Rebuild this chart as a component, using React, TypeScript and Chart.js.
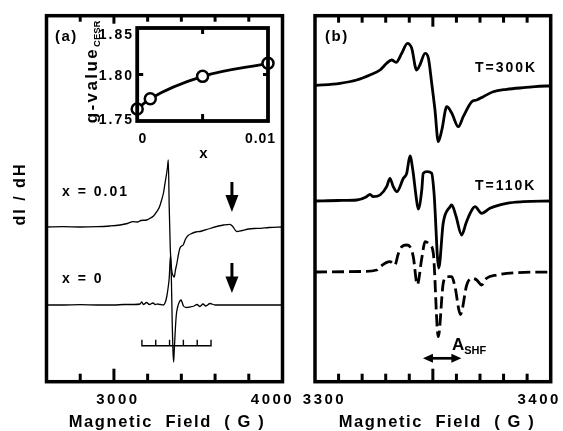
import React, { useEffect, useRef } from 'react';
import { Chart, registerables } from 'chart.js';

Chart.register(...registerables);

const W = 563;
const H = 431;
const FONT = '"Liberation Sans", Arial, Helvetica, sans-serif';

// ---------------- Panel (a): dI/dH vs magnetic field (G) ----------------
const A_FIELD_RANGE = [2600, 4000];
const A_Y_RANGE = [0, 366];
const A_MINOR_TICKS = [2800, 3200, 3400, 3600, 3800];
const A_MAJOR_TICKS = [3000];
const A_TICK_LABELS = [3000, 4000];
const A_OFFSET_X001 = 154.7;
const A_OFFSET_X0 = 76.7;

const TRACE_X001: [number, number][] = [
  [2600, 0], [2700, 0.3], [2800, 0], [2900, 0.3], [2977, 1], [3036, 2], [3080, 3.5],
  [3113, 5.3], [3140, 5], [3160, 6.5], [3194, 7], [3214, 8.7], [3235, 11], [3254, 15.3],
  [3270, 20], [3283, 27], [3295, 35], [3303, 43.7], [3313, 54], [3318, 60], [3322.5, 67],
  [3328, 20], [3334, -20], [3342, -42], [3352, -49], [3358, -50], [3364, -44], [3375, -35],
  [3382, -28], [3392, -21], [3402, -19], [3411, -18], [3425, -12], [3440, -8.5], [3455, -7],
  [3485, -5], [3511, -4.5], [3560, -2], [3590, -0.3], [3620, 1], [3650, 2], [3688, 2.7],
  [3705, 0.5], [3728, -4.5], [3760, -3.5], [3800, -2], [3830, -1.5], [3870, -1.3],
  [3920, -0.5], [4000, 0],
];

const TRACE_X0: [number, number][] = [
  [2600, 0], [2700, 0], [2800, 0.3], [2900, 0], [3000, 0], [3060, 0.5], [3120, 0.5],
  [3155, 1], [3165, 3], [3175, 0.5], [3194, 2.5], [3210, 0.5], [3232, 2], [3245, 0.5],
  [3260, 1], [3275, 0.5], [3293, 0], [3303, 2], [3313, 8], [3322, 18], [3328, 27],
  [3336, 50], [3341, 25], [3346, -20], [3350, -45], [3354, -57], [3358, -45], [3364, -25],
  [3370, -10], [3378, -2], [3388, 3], [3398, 5], [3406, 2], [3412, -1], [3430, -2.5],
  [3451, -2], [3475, -1], [3493, 0.5], [3510, -1.5], [3528, 1], [3545, -1], [3570, 1.5],
  [3600, 0], [3650, 0], [3750, 0], [3850, 0], [4000, 0],
];

const STICK_FIELDS = [3166, 3248, 3330, 3412, 3494, 3576];
const STICK_LEVEL = 36;
const STICK_HEIGHT = 6;
const A_ARROW_FIELD = 3700;
const A_ARROWS_Y: [number, number][] = [[199.7, 169.7], [118.7, 88.7]];

// ---------------- Inset: g-value_CESR vs x ----------------
const INSET_X = [0, 0.001, 0.005, 0.01];
const INSET_G = [1.763, 1.774, 1.798, 1.812];
const INSET_Y_LABELS = ['1.85', '1.80', '1.75'];
const INSET_X_LABELS = ['0', '0.01'];

// ---------------- Panel (b) ----------------
const B_FIELD_RANGE = [3300, 3400];
const B_MINOR_TICKS = [3310, 3320, 3330, 3340, 3360, 3370, 3380, 3390];
const B_MAJOR_TICKS = [3350];
const B_TICK_LABELS = [3300, 3400];
const B_OFFSET_300K = 295.7;
const B_OFFSET_110K = 180.7;
const B_OFFSET_SIM = 109.7;

const TRACE_300K: [number, number][] = [
  [3300, 0.5], [3310.6, 2.7], [3317.7, 6], [3323.3, 11], [3327.6, 16], [3330.4, 22.7],
  [3332.5, 26], [3334.4, 23.7], [3336.8, 32.7], [3339.2, 42.7], [3341, 38], [3343.1, 16],
  [3344.5, 21], [3346.7, 32.7], [3348.1, 28], [3349.5, 3], [3350.9, -24], [3352.3, -55.7],
  [3353.8, -44], [3355.9, -20.7], [3358, -27], [3360.8, -40.7], [3362.9, -30.7],
  [3366.5, -15.7], [3368.6, -14], [3371.4, -10.7], [3375.6, -5.7], [3381.3, -3.3],
  [3388.4, -1.7], [3398.3, 0], [3400, 0],
];

const TRACE_110K: [number, number][] = [
  [3300, 0], [3310, 0.5], [3317.7, 1], [3321.9, 4.3], [3323.3, 6.7], [3324.7, 4.3],
  [3327.6, 6], [3330.4, 14.3], [3331.8, 22.7], [3333.2, 14.3], [3334.7, 9.3], [3337.5, 22.7],
  [3338.9, 27.7], [3340.3, 45], [3341.5, 31], [3342.9, 4.3], [3343.8, -8], [3345.3, 11],
  [3345.9, 27.7], [3347.6, 29.3], [3349.5, 27.7], [3350.5, 8], [3352.5, -67], [3354.4, -22],
  [3357.3, -5.7], [3358, -4], [3359.8, -15], [3362.2, -34], [3364.1, -22], [3365.8, -12.3],
  [3367.9, -5.7], [3370.7, -12.3], [3374.2, -7.3], [3381.3, -2.3], [3388.4, -0.7], [3400, 0],
];

const TRACE_SIM: [number, number][] = [
  [3300, 0], [3320, 0.5], [3326.2, 2], [3327.6, 5.3], [3331.8, 10.3], [3333.9, 7],
  [3335.3, 18], [3336.8, 25.3], [3338.9, 27], [3340.3, 25.3], [3341.7, 15.3], [3343.4, -12.7],
  [3345.3, 13.7], [3346.7, 30.3], [3348.8, 27], [3350.2, 18.7], [3352.3, -64.7],
  [3354.4, -11.3], [3355.9, -4.7], [3358, -4.7], [3359.4, -15], [3361.7, -42.5],
  [3364.4, -12.7], [3366.5, -6.3], [3368.6, -8], [3370.7, -13], [3372.8, -6.3],
  [3377.1, -3], [3385.6, -0.7], [3400, 0],
];

const A_SHF_FIELDS: [number, number] = [3345.8, 3362.1];
const A_SHF_LEVEL = 23.4;

// ---------------- drawing helpers ----------------
type TextItem = {
  text: string; size: number; ls?: number; align?: CanvasTextAlign; baseline?: CanvasTextBaseline;
  x?: number; xv?: number; dx?: number; y: number; rot?: number;
  sub?: string; subSize?: number; subDy?: number;
};

const decorPlugin = {
  id: 'decor',
  afterDraw(chart: any, _args: any, opts: any) {
    const ctx: CanvasRenderingContext2D = chart.ctx;
    const { left, right, top, bottom } = chart.chartArea;
    const xs = chart.scales.x;
    const ys = chart.scales.y;
    ctx.save();
    ctx.strokeStyle = '#000';
    ctx.fillStyle = '#000';
    ctx.lineCap = 'butt';
    const seg = (x1: number, y1: number, x2: number, y2: number) => {
      ctx.beginPath(); ctx.moveTo(x1, y1); ctx.lineTo(x2, y2); ctx.stroke();
    };
    ctx.lineWidth = opts.tickWidth || 3;
    for (const t of opts.xTicks || []) {
      const px = xs.getPixelForValue(t.v);
      if (t.bottom) seg(px, bottom, px, bottom - t.bottom);
      if (t.top) seg(px, top, px, top + t.top);
    }
    for (const t of opts.yTicks || []) {
      const py = ys.getPixelForValue(t.v);
      if (t.left) seg(left, py, left + t.left, py);
      if (t.right) seg(right, py, right - t.right, py);
    }
    ctx.lineWidth = opts.frameWidth || 3;
    ctx.strokeRect(left, top, right - left, bottom - top);

    for (const a of opts.downArrows || []) {
      const px = xs.getPixelForValue(a.x);
      const y0 = ys.getPixelForValue(a.yTop);
      const yt = ys.getPixelForValue(a.yTip);
      ctx.lineWidth = a.shaftW;
      seg(px, y0, px, yt - a.headLen + 1);
      ctx.beginPath();
      ctx.moveTo(px - a.headW / 2, yt - a.headLen);
      ctx.lineTo(px + a.headW / 2, yt - a.headLen);
      ctx.lineTo(px, yt);
      ctx.closePath();
      ctx.fill();
    }
    for (const a of opts.hArrows || []) {
      const x0 = xs.getPixelForValue(a.x0);
      const x1 = xs.getPixelForValue(a.x1);
      const py = ys.getPixelForValue(a.y);
      ctx.lineWidth = a.shaftW;
      seg(x0 + a.headLen - 1, py, x1 - a.headLen + 1, py);
      ctx.beginPath();
      ctx.moveTo(x0, py); ctx.lineTo(x0 + a.headLen, py - a.headW / 2); ctx.lineTo(x0 + a.headLen, py + a.headW / 2);
      ctx.closePath(); ctx.fill();
      ctx.beginPath();
      ctx.moveTo(x1, py); ctx.lineTo(x1 - a.headLen, py - a.headW / 2); ctx.lineTo(x1 - a.headLen, py + a.headW / 2);
      ctx.closePath(); ctx.fill();
    }
    for (const t of (opts.texts || []) as TextItem[]) {
      ctx.save();
      ctx.font = `bold ${t.size}px ${FONT}`;
      (ctx as any).letterSpacing = `${t.ls || 0}px`;
      ctx.textAlign = t.align || 'left';
      ctx.textBaseline = t.baseline || 'alphabetic';
      const x = t.xv !== undefined ? xs.getPixelForValue(t.xv) + (t.dx || 0) : (t.x as number);
      ctx.translate(x, t.y);
      if (t.rot) ctx.rotate(t.rot);
      ctx.fillText(t.text, 0, 0);
      if (t.sub) {
        const w = ctx.measureText(t.text).width;
        ctx.font = `bold ${t.subSize || 10}px ${FONT}`;
        (ctx as any).letterSpacing = '0px';
        ctx.textAlign = 'left';
        ctx.fillText(t.sub, w, t.subDy || 3);
      }
      ctx.restore();
    }
    ctx.restore();
  },
};

function baseOptions(pad: any, xr: number[], yr: number[], decor: any): any {
  return {
    responsive: false,
    animation: false,
    devicePixelRatio: 1,
    events: [],
    layout: { padding: pad },
    scales: {
      x: { type: 'linear', min: xr[0], max: xr[1], display: false },
      y: { type: 'linear', min: yr[0], max: yr[1], display: false },
    },
    plugins: { legend: { display: false }, tooltip: { enabled: false }, decor },
  };
}

const toPts = (arr: [number, number][], off: number) => arr.map(([x, y]) => ({ x, y: y + off }));

function traceDataset(data: any[], width: number, dash?: number[]) {
  return {
    data, borderColor: '#000', borderWidth: width, pointRadius: 0, fill: false,
    cubicInterpolationMode: 'monotone', borderDash: dash || [], borderJoinStyle: 'round',
  };
}

function panelAConfig(): any {
  const stick: any[] = [];
  STICK_FIELDS.forEach((f) => {
    stick.push({ x: f, y: STICK_LEVEL }, { x: f, y: STICK_LEVEL + STICK_HEIGHT }, { x: f, y: STICK_LEVEL });
  });
  const xTicks = [
    ...A_MINOR_TICKS.map((v) => ({ v, bottom: 8, top: 6 })),
    ...A_MAJOR_TICKS.map((v) => ({ v, bottom: 13, top: 8 })),
  ];
  const texts: TextItem[] = [
    { text: '(a)', size: 15, ls: 1.5, x: 55, y: 41 },
    { text: 'x = 0.01', size: 14, ls: 2, x: 62, y: 195.5 },
    { text: 'x = 0', size: 14, ls: 2, x: 62, y: 282.5 },
    { text: 'dI / dH', size: 16, ls: 2, x: 21, y: 194, align: 'center', baseline: 'middle', rot: -Math.PI / 2 },
    { text: String(A_TICK_LABELS[0]), size: 15, ls: 2.5, xv: A_TICK_LABELS[0], dx: 4, y: 403.5, align: 'center' },
    { text: String(A_TICK_LABELS[1]), size: 15, ls: 2.5, xv: A_TICK_LABELS[1], dx: -10, y: 403.5, align: 'center' },
    { text: 'Magnetic  Field  ( G )', size: 16.5, ls: 1.6, x: 167, y: 427, align: 'center' },
  ];
  return {
    type: 'line',
    data: {
      datasets: [
        traceDataset(toPts(TRACE_X001, A_OFFSET_X001), 1.3),
        traceDataset(toPts(TRACE_X0, A_OFFSET_X0), 1.3),
        { data: stick, borderColor: '#000', borderWidth: 1.4, pointRadius: 0, tension: 0, fill: false },
      ],
    },
    options: baseOptions(
      { left: 46.5, right: W - 282.5, top: 15.7, bottom: H - 381.7 },
      A_FIELD_RANGE, A_Y_RANGE,
      {
        frameWidth: 3.5, tickWidth: 3, xTicks, texts,
        downArrows: A_ARROWS_Y.map(([yTop, yTip], i) => ({
          x: A_ARROW_FIELD, yTop, yTip, headLen: i === 0 ? 17 : 16.5, headW: 13, shaftW: 3,
        })),
      },
    ),
    plugins: [decorPlugin],
  };
}

function insetConfig(): any {
  const texts: TextItem[] = [
    { text: INSET_Y_LABELS[0], size: 14, ls: 2, x: 134, y: 38.5, align: 'right' },
    { text: INSET_Y_LABELS[1], size: 14, ls: 2, x: 134, y: 80, align: 'right' },
    { text: INSET_Y_LABELS[2], size: 14, ls: 2, x: 134, y: 123.5, align: 'right' },
    { text: INSET_X_LABELS[0], size: 14, ls: 1, x: 143, y: 143.3, align: 'center' },
    { text: INSET_X_LABELS[1], size: 14, ls: 1, x: 260.5, y: 143.3, align: 'center' },
    { text: 'x', size: 15, ls: 0, x: 203.5, y: 158.3, align: 'center' },
    { text: 'g-value', size: 17, ls: 2.4, x: 96.5, y: 123.3, rot: -Math.PI / 2, sub: 'CESR', subSize: 9.5, subDy: 3.5 },
  ];
  return {
    type: 'line',
    data: {
      datasets: [{
        data: INSET_X.map((x, i) => ({ x, y: INSET_G[i] })),
        borderColor: '#000', borderWidth: 2.8, fill: false, clip: false,
        cubicInterpolationMode: 'monotone',
        pointRadius: 5.5, pointBorderWidth: 2.5, pointBackgroundColor: '#fff', pointBorderColor: '#000',
      }],
    },
    options: baseOptions(
      { left: 137.2, right: W - 268, top: 28, bottom: H - 121 },
      [0, 0.01], [1.75, 1.85],
      {
        frameWidth: 3.8, tickWidth: 3,
        xTicks: [{ v: 0.005, top: 6, bottom: 7 }],
        yTicks: [{ v: 1.8, left: 6, right: 5 }],
        texts,
      },
    ),
    plugins: [decorPlugin],
  };
}

function panelBConfig(): any {
  const xTicks = [
    ...B_MINOR_TICKS.map((v) => ({ v, bottom: 8, top: 7 })),
    ...B_MAJOR_TICKS.map((v) => ({ v, bottom: 13, top: 11 })),
  ];
  const texts: TextItem[] = [
    { text: '(b)', size: 15, ls: 1.5, x: 325, y: 41 },
    { text: 'T=300K', size: 14, ls: 2, x: 475, y: 72 },
    { text: 'T=110K', size: 14, ls: 2, x: 475, y: 190 },
    { text: 'A', size: 17, ls: 0, x: 452, y: 350, sub: 'SHF', subSize: 11, subDy: 3.5 },
    { text: String(B_TICK_LABELS[0]), size: 15, ls: 2.5, xv: B_TICK_LABELS[0], dx: 9.5, y: 403.5, align: 'center' },
    { text: String(B_TICK_LABELS[1]), size: 15, ls: 2.5, xv: B_TICK_LABELS[1], dx: -11.5, y: 403.5, align: 'center' },
    { text: 'Magnetic  Field  ( G )', size: 16.5, ls: 1.6, x: 437, y: 427, align: 'center' },
  ];
  return {
    type: 'line',
    data: {
      datasets: [
        traceDataset(toPts(TRACE_300K, B_OFFSET_300K), 2.8),
        traceDataset(toPts(TRACE_110K, B_OFFSET_110K), 2.8),
        traceDataset(toPts(TRACE_SIM, B_OFFSET_SIM), 2.8, [12, 5]),
      ],
    },
    options: baseOptions(
      { left: 315, right: W - 550.7, top: 15.7, bottom: H - 381.7 },
      B_FIELD_RANGE, A_Y_RANGE,
      {
        frameWidth: 3.5, tickWidth: 3, xTicks, texts,
        hArrows: [{ x0: A_SHF_FIELDS[0], x1: A_SHF_FIELDS[1], y: A_SHF_LEVEL, headLen: 10, headW: 9, shaftW: 2.7 }],
      },
    ),
    plugins: [decorPlugin],
  };
}

export default function App() {
  const refA = useRef<HTMLCanvasElement>(null);
  const refB = useRef<HTMLCanvasElement>(null);
  const refI = useRef<HTMLCanvasElement>(null);

  useEffect(() => {
    const charts = [
      new Chart(refA.current as HTMLCanvasElement, panelAConfig()),
      new Chart(refB.current as HTMLCanvasElement, panelBConfig()),
      new Chart(refI.current as HTMLCanvasElement, insetConfig()),
    ];
    return () => charts.forEach((c) => c.destroy());
  }, []);

  const abs: React.CSSProperties = { position: 'absolute', left: 0, top: 0, width: W, height: H };
  return (
    <div style={{ position: 'fixed', left: 0, top: 0, width: W, height: H, background: '#fff', overflow: 'hidden' }}>
      <canvas ref={refA} width={W} height={H} style={abs} />
      <canvas ref={refB} width={W} height={H} style={abs} />
      <canvas ref={refI} width={W} height={H} style={abs} />
    </div>
  );
}
